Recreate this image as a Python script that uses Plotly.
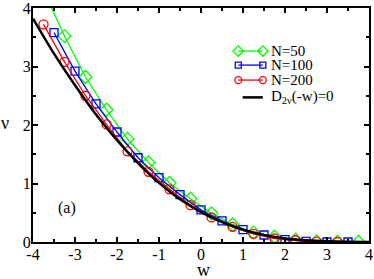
import plotly.graph_objects as go

# N=50 (green diamonds)
w50 = [-3.75, -3.25, -2.75, -2.25, -1.75, -1.25, -0.75, -0.25, 0.25, 0.75, 1.25, 1.75, 2.25, 2.75, 3.25, 3.75]
nu50 = [4.30, 3.52, 2.82, 2.26, 1.76, 1.36, 1.01, 0.74, 0.49, 0.30, 0.16, 0.09, 0.035, 0.01, 0.0, 0.0]
# N=100 (blue squares)
w100 = [-3.5, -3.0, -2.5, -2.0, -1.5, -1.0, -0.5, 0.0, 0.5, 1.0, 1.5, 2.0, 2.5, 3.0, 3.5]
nu100 = [3.58, 2.92, 2.36, 1.88, 1.44, 1.10, 0.81, 0.55, 0.36, 0.21, 0.12, 0.04, 0.01, 0.0, 0.0]
# N=200 (red circles)
w200 = [-3.75, -3.25, -2.75, -2.25, -1.75, -1.25, -0.75, -0.25, 0.25, 0.75, 1.25, 1.75, 2.25, 2.75, 3.25]
nu200 = [3.72, 3.08, 2.50, 2.01, 1.55, 1.20, 0.90, 0.63, 0.42, 0.26, 0.14, 0.06, 0.03, 0.005, 0.0]
# D_{2nu}(-w)=0 curve (black)
wD = [-4.0, -3.5, -3.0, -2.5, -2.0, -1.5, -1.0, -0.5, 0.0, 0.5, 1.0, 1.5, 2.0, 2.5, 3.0, 3.5, 4.0]
nuD = [3.82, 3.22, 2.68, 2.18, 1.74, 1.35, 1.01, 0.73, 0.51, 0.34, 0.21, 0.12, 0.06, 0.03, 0.012, 0.004, 0.001]

series_names = ["N=50", "N=100", "N=200", "D<sub>2ν</sub>(-w)=0"]
series_colors = ["#00ff00", "#0000ff", "#ff0000", "black"]
series_symbols = ["diamond-open", "square-open", "circle-open", None]
series_sizes = [10, 8, 9, 0]

x_ticks = [-4, -3, -2, -1, 0, 1, 2, 3, 4]
y_ticks = [0, 1, 2, 3, 4]

FONT = "Liberation Serif, Times New Roman, serif"

fig = go.Figure()
data = [(w50, nu50), (w100, nu100), (w200, nu200)]
for (xs, ys), name, col, sym, sz in zip(data, series_names, series_colors, series_symbols, series_sizes):
    fig.add_trace(go.Scatter(x=xs, y=ys, mode="lines+markers", name=name, showlegend=False,
                             line=dict(color=col, width=1.3),
                             marker=dict(symbol=sym, size=sz, color=col, line=dict(width=1.3))))
fig.add_trace(go.Scatter(x=wD, y=nuD, mode="lines", name=series_names[3], showlegend=False,
                         line=dict(color="black", width=2.5, shape="spline", smoothing=0.6)))

# legend keys drawn on a hidden overlay axis (xmgrace style: marker at both ends)
leg_rows = [0.816, 0.756, 0.692, 0.618]
for i, (name, col, sym, sz) in enumerate(zip(series_names, series_colors, series_symbols, series_sizes)):
    if sym is None:
        fig.add_trace(go.Scatter(x=[0.624, 0.684], y=[leg_rows[i]] * 2, mode="lines",
                                 xaxis="x2", yaxis="y2", showlegend=False, hoverinfo="skip",
                                 line=dict(color=col, width=2.5)))
    else:
        fig.add_trace(go.Scatter(x=[0.611, 0.684], y=[leg_rows[i]] * 2, mode="lines+markers",
                                 xaxis="x2", yaxis="y2", showlegend=False, hoverinfo="skip",
                                 line=dict(color=col, width=1.3),
                                 marker=dict(symbol=sym, size=sz - 2, color=col, line=dict(width=1.3))))
    fig.add_annotation(x=0.703, y=leg_rows[i], xref="paper", yref="paper", text=name,
                       showarrow=False, xanchor="left", yanchor="middle",
                       font=dict(family=FONT, size=15, color="black"))

axis_common = dict(showgrid=False, zeroline=False, showline=True, linecolor="black", linewidth=2,
                   mirror="allticks", ticks="inside", ticklen=5, tickwidth=1.5, tickcolor="black",
                   automargin=False, ticklabeloverflow="allow",
                   tickfont=dict(family=FONT, size=16, color="black"))

fig.update_layout(
    xaxis=dict(range=[-4, 4], tickvals=x_ticks, ticktext=[str(v) for v in x_ticks],
               minor=dict(ticks="inside", dtick=0.5, ticklen=3, tickwidth=1.5, tickcolor="black"),
               ticklabelstandoff=-3, **axis_common),
    yaxis=dict(range=[0, 4], tickvals=y_ticks, ticktext=[str(v) for v in y_ticks],
               minor=dict(ticks="inside", dtick=0.5, ticklen=3, tickwidth=1.5, tickcolor="black"),
               ticklabelstandoff=-3, **axis_common),
    xaxis2=dict(overlaying="x", range=[0, 1], visible=False, fixedrange=True),
    yaxis2=dict(overlaying="y", range=[0, 1], visible=False, fixedrange=True),
    width=374, height=279,
    margin=dict(l=33, r=5, t=8, b=37),
    paper_bgcolor="white", plot_bgcolor="white",
    showlegend=False,
)

# axis titles and panel label
fig.add_annotation(x=-0.082, y=0.51, xref="paper", yref="paper", text="ν", showarrow=False,
                   xanchor="center", yanchor="middle",
                   font=dict(family=FONT, size=18, color="black"))
fig.add_annotation(x=0.507, y=-0.118, xref="paper", yref="paper", text="w", showarrow=False,
                   xanchor="center", yanchor="middle",
                   font=dict(family=FONT, size=18, color="black"))
fig.add_annotation(x=-3.19, y=0.577, xref="x", yref="y", text="(a)", showarrow=False,
                   xanchor="center", yanchor="middle",
                   font=dict(family=FONT, size=16, color="black"))

fig.write_html("out.html", config={"displayModeBar": False},
               post_script="document.body.style.margin='0';document.body.style.overflow='hidden';")
